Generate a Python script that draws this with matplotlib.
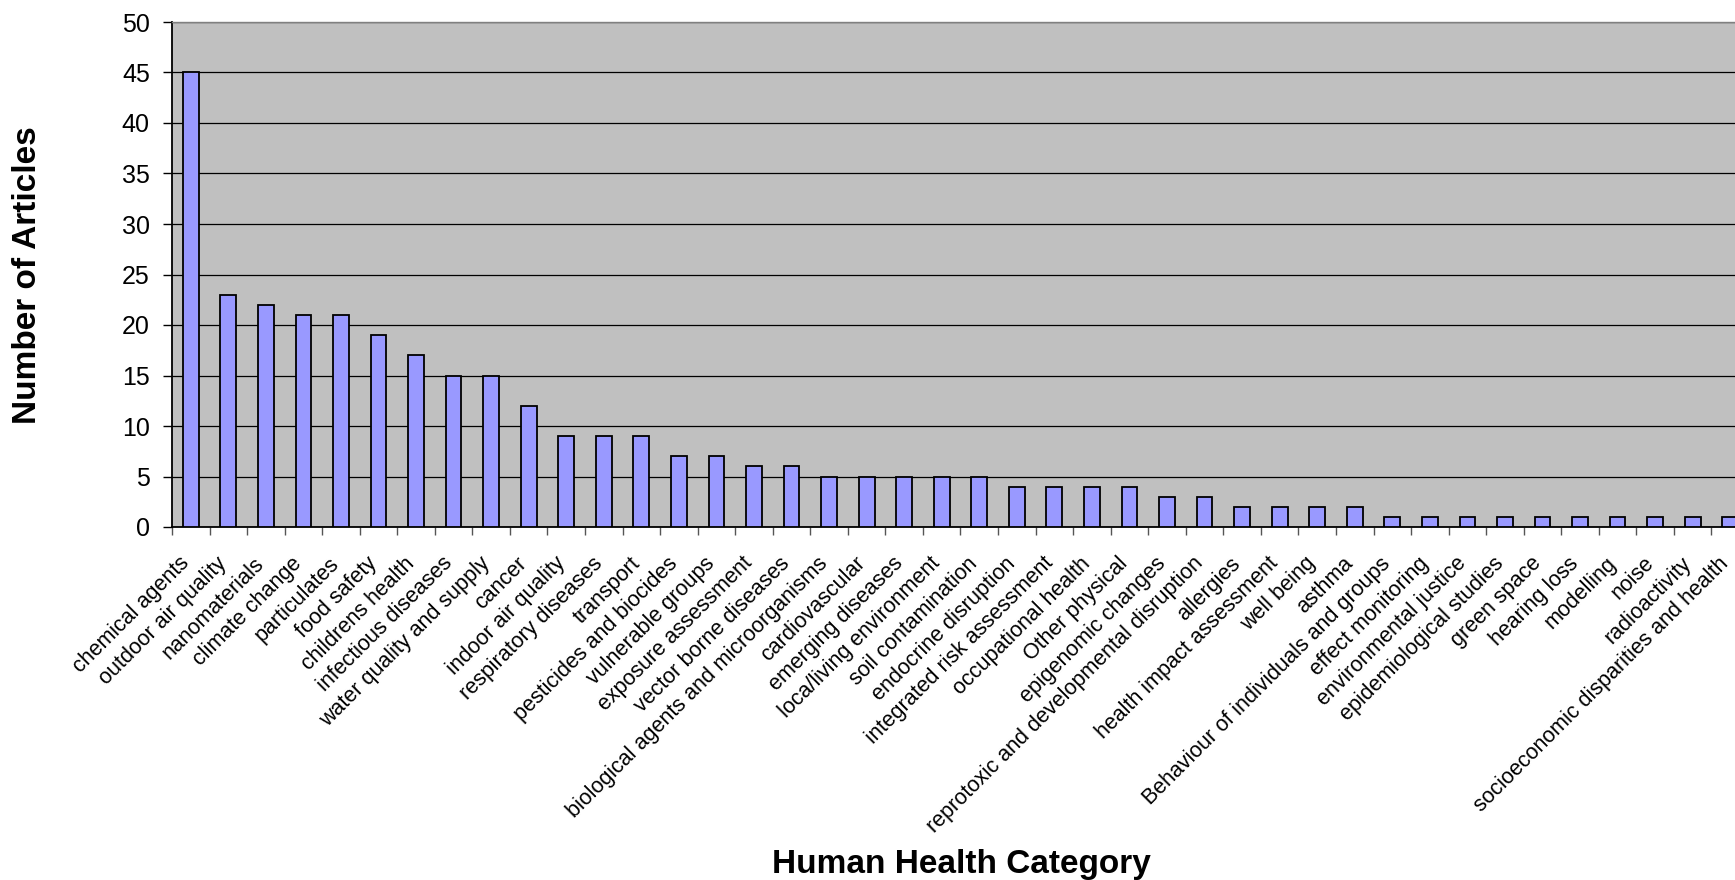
import numpy as np
import matplotlib
matplotlib.use("Agg")
import matplotlib.pyplot as plt
import matplotlib.ticker as ticker
import matplotlib.transforms as mtransforms

plt.rcParams['font.family'] = ['Liberation Sans', 'DejaVu Sans']

categories = [
    "chemical agents", "outdoor air quality", "nanomaterials", "climate change",
    "particulates", "food safety", "childrens health", "infectious diseases",
    "water quality and supply", "cancer", "indoor air quality",
    "respiratory diseases", "transport", "pesticides and biocides",
    "vulnerable groups", "exposure assessment", "vector borne diseases",
    "biological agents and microorganisms", "cardiovascular",
    "emerging diseases", "loca/living environment", "soil contamination",
    "endocrine disruption", "integrated risk assessment",
    "occupational health", "Other physical", "epigenomic changes",
    "reprotoxic and developmental disruption", "allergies",
    "health impact assessment", "well being", "asthma",
    "Behaviour of individuals and groups", "effect monitoring",
    "environmental justice", "epidemiological studies", "green space",
    "hearing loss", "modelling", "noise", "radioactivity",
    "socioeconomic disparities and health",
]
articles = [45, 23, 22, 21, 21, 19, 17, 15, 15, 12, 9, 9, 9, 7, 7, 6, 6,
            5, 5, 5, 5, 5, 4, 4, 4, 4, 3, 3, 2, 2, 2, 2,
            1, 1, 1, 1, 1, 1, 1, 1, 1, 1]
y_ticks = list(range(0, 55, 5))

W, H = 1735, 880
fig = plt.figure(figsize=(W / 100, H / 100), dpi=100)
# plot area runs off the right edge of the picture, like the original
ax = fig.add_axes([172 / W, 1 - 527 / H, 1577 / W, 505 / H])
ax.set_facecolor("#C0C0C0")

x = np.arange(len(categories))
ax.bar(x, articles, width=0.42, color="#9999FF", edgecolor="black",
       linewidth=1.3, zorder=3)

ax.set_xlim(-0.5, len(categories) - 0.5)
ax.set_ylim(0, 50)
ax.set_yticks(y_ticks)
ax.set_yticklabels([str(v) for v in y_ticks], fontsize=18)
ax.yaxis.grid(True, color="black", linewidth=0.9, zorder=1)
ax.set_axisbelow(True)

# category labels drawn by hand so they can sit down-left of each slot
ax.set_xticks([])
ax.xaxis.set_minor_locator(ticker.FixedLocator(np.arange(-0.5, len(categories), 1.0)))
ax.tick_params(axis="x", which="minor", length=6, width=1, color="#555555",
               direction="out")
lab_trans = (mtransforms.blended_transform_factory(ax.transData, ax.transAxes)
             + mtransforms.ScaledTranslation(-0.12, -0.26, fig.dpi_scale_trans))
for xi, name in zip(x, categories):
    ax.text(xi, 0, name, transform=lab_trans, rotation=45,
            rotation_mode="anchor", ha="right", va="top", fontsize=15.5,
            clip_on=False)

ax.tick_params(axis="y", length=6.5, width=1, direction="out", pad=9.5)

for side in ("left", "bottom"):
    ax.spines[side].set_color("black")
    ax.spines[side].set_linewidth(1.3)
for side in ("top", "right"):
    ax.spines[side].set_color("#808080")
    ax.spines[side].set_linewidth(1.0)

fig.text(961 / W, 1 - 873 / H, "Human Health Category", ha="center",
         va="baseline", fontsize=24, fontweight="bold")
fig.text(28 / W, 1 - 275 / H, "Number of Articles", ha="center",
         va="center", rotation=90, fontsize=24, fontweight="bold")

fig.savefig("out.png", dpi=100)
